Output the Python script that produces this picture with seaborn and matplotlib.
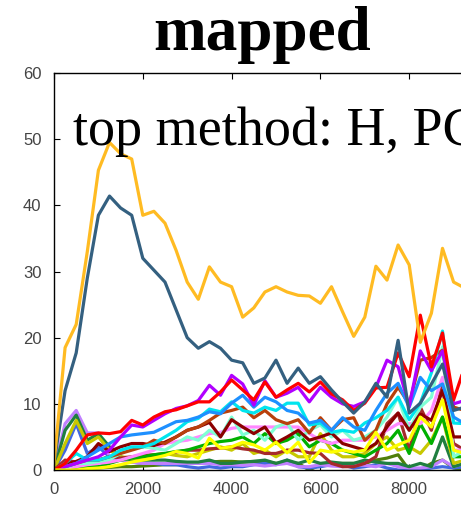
import numpy as np
import pandas as pd
from matplotlib import pyplot as plt
import seaborn as sns

sns.set_style('ticks')
plt.rcParams['font.family'] = ['Liberation Sans', 'DejaVu Sans']

steps = [0, 250, 500, 750, 1000, 1250, 1500, 1750, 2000, 2250, 2500, 2750,
         3000, 3250, 3500, 3750, 4000, 4250, 4500, 4750, 5000, 5250, 5500, 5750,
         6000, 6250, 6500, 6750, 7000, 7250, 7500, 7750, 8000, 8250, 8500, 8750,
         9000, 9250]

olivegreen = [0, 0, 0.1, 0.2, 0.3, 0.4, 0.5, 0.5, 0.6, 0.7, 0.8, 0.8, 1, 1, 1.2, 1.3, 1.3, 1.2, 1.3,
              1.3, 1, 1, 1, 0, 0.8, 1, 1, 1, 1, 1.5, 1.8, 2.3, 0, 0, 1, 1.5, 0.3, 0]
royalblue = [0, 3, 7, 2.5, 3.5, 2, 1.5, 1.2, 1, 1, 0.8, 0.8, 0.5, 0.3, 0.5, 0.3, 0.5, 0.5, 0.8,
             1, 0.8, 1.5, 0.5, 0.3, 0.5, 0.8, 0.8, 0.3, 0.5, 0.8, 0.3, 0, 0, 0, 0.3, 0.5, 0.3, 0.5]
lavender = [0, 7, 9, 5.6, 5.6, 2, 1.5, 1.2, 1, 1, 1, 1, 1, 1, 1, 0.8, 0.8, 0.7, 0.8, 0.6, 0.8,
            1, 0.5, 0.5, 0.8, 0.6, 0.5, 0.8, 0.7, 0.5, 1, 0.5, 0.3, 0.3, 0.5, 1.5, 0.5, 1]
seagreen = [0, 6, 8.3, 4.5, 5.5, 3.5, 2, 1.5, 1.5, 1.5, 1.5, 1.3, 1.2, 1.2, 1.5, 1, 1, 1.2, 1.3,
            1.5, 1, 1.5, 1, 1.5, 1, 1.2, 1, 1, 1.5, 1.2, 1, 1, 0.5, 1, 0.5, 5, 0.5, 1]
oliveyellow = [0, 4, 7.5, 4, 5, 3, 2, 1.8, 1.8, 2, 2.5, 2.2, 2, 2.5, 3, 3.5, 3, 4, 2.5, 3, 2,
               3, 2, 2, 5.5, 3, 2, 2, 2.5, 4, 5, 3, 3.5, 2.5, 4.5, 8, 1, 1.5]
brown = [0, 1.5, 1.2, 1.5, 1.5, 2, 1.8, 2, 2.2, 2.3, 2.5, 2.7, 3, 3, 3.2, 3.3, 3.5, 3.2, 3, 2.5,
         2.5, 3, 3, 2.6, 2.5, 1, 0.5, 0.5, 1, 2, 7, 8.6, 3, 9.5, 6, 13, 4, 3]
green = [0, 0.2, 0.3, 0.5, 0.5, 1, 1.5, 1.8, 2, 2.3, 2.5, 2.8, 3, 3.5, 4, 4.3, 4.5, 5, 4, 5.5,
         4, 4.5, 5.5, 3.5, 4.5, 4, 3, 2.5, 2, 3, 4, 6, 2.5, 7, 4, 8, 2, 2]
pink = [0, 0.3, 0.5, 0.8, 1, 1.2, 1.5, 2, 2.5, 3, 4, 4.3, 4.5, 5, 5.5, 5.7, 6.3, 6.5, 6.5, 6.5,
        6.5, 6.5, 6.5, 5.5, 4.5, 4, 4.5, 4.5, 4.5, 5, 6, 7, 7, 7, 9, 14, 3, 3]
aqua = [0, 0.3, 1, 1, 1.3, 1.6, 2.5, 3.3, 3.5, 3.3, 3, 4, 5, 4.5, 6, 5, 8, 5.3, 6, 4.5, 6.5,
        7.1, 4.5, 6, 6.8, 5, 6, 4.5, 5, 6, 8, 11, 6, 9.5, 11, 18.6, 2, 3]
darkred = [0, 0.8, 1.3, 2, 4, 2.8, 3.5, 4, 4, 3.7, 4.2, 5, 6, 6.5, 7.2, 5, 7.6, 6.5, 5.5, 6.5,
           4.1, 5, 6, 4.5, 5, 5.6, 4, 3.5, 3, 4, 6.5, 8.6, 6, 8.5, 7.5, 12, 5, 5]
sienna = [0, 0.5, 1, 1.5, 1.5, 2, 2.5, 3, 3.5, 4.5, 4, 5, 6, 6.5, 7.5, 8.6, 9, 9.5, 7.9, 9,
          7.6, 7, 7.6, 5.6, 7.9, 6, 7.6, 7.9, 4.5, 6, 10, 12.5, 10, 16.6, 17, 18.1, 9.5, 9]
cyan = [0, 1, 2.5, 1.5, 1.5, 2, 3, 3.5, 3.5, 4, 5, 6, 7.3, 7.8, 9.2, 8.8, 10.3, 9, 8.6, 9.5, 9,
        10.1, 10.1, 6.8, 7.1, 5.7, 6, 5.7, 7.1, 7.9, 9, 11, 7.6, 10.1, 14.7, 21, 7.1, 7]
blue = [0, 0.5, 1, 2, 3, 4, 5, 5.3, 5.5, 5.7, 6.5, 7.3, 7.5, 8, 8.8, 8.5, 10.1, 11.3, 9.5, 11,
        10.3, 9, 8.6, 7.1, 7.5, 6, 7.9, 6.5, 6, 9, 11.6, 13.1, 9.5, 14, 12, 13, 8, 7]
purple = [0, 0.5, 1, 1.5, 2, 3, 5, 6.8, 6.5, 7.5, 8.5, 9.3, 9.7, 10.5, 12.8, 11.3, 14.3, 13, 9.8,
          13.5, 11, 11.6, 12.5, 10.3, 12.5, 11, 10, 9.6, 10.3, 12.5, 16.6, 15.6, 9.6, 18, 15, 18, 10, 10.5]
red = [0, 1, 3, 5.3, 5.6, 5.5, 5.8, 7.5, 6.8, 8, 8.8, 9.1, 9.7, 10.3, 10.3, 11.8, 13.6, 12.1,
       10.6, 13.3, 11, 12.1, 13.1, 11.8, 13.3, 11.5, 10.6, 9, 10.1, 12.4, 12.5, 17.7, 14.1, 23.4,
       15.6, 20.7, 10.6, 15.6]
yellow = [0, 0, 0, 0.2, 0.3, 0.5, 0.8, 1.2, 1.5, 1.8, 2.2, 2.8, 2.5, 1.8, 4.8, 3.3, 3.5, 4.2,
          3.8, 3, 4.2, 2.6, 4.2, 1.1, 3, 2.7, 3, 2.7, 3, 5.7, 3, 3.8, 4.5, 8, 6.5, 10.6, 3, 2.5]
darkblue = [1, 12, 17.7, 29, 38.5, 41.4, 39.6, 38.5, 32, 30.2, 28.4, 24.2, 20, 18.4, 19.4, 18.4,
            16.6, 16.2, 13.1, 13.9, 16.6, 13.1, 15.4, 13.1, 14.1, 12.1, 10.3, 8.6, 10.3, 13.1, 11,
            19.6, 8.6, 10.1, 13, 16, 9, 9.5]
orange = [1, 18.5, 22, 33, 45.3, 49.5, 47.8, 47, 38.5, 39.1, 37.3, 33.2, 28.4, 25.8, 30.7, 28.4,
          27.7, 23.1, 24.5, 26.9, 27.7, 26.9, 26.4, 26.3, 25.2, 27.7, 23.9, 20.2, 23.1, 30.8, 28.7,
          34, 31, 19.3, 23.7, 33.5, 28.4, 27.5]

series = {
    'olivegreen': (olivegreen, '#4f7f0a'),
    'royalblue': (royalblue, '#4169e1'),
    'lavender': (lavender, '#c080ff'),
    'seagreen': (seagreen, '#1f7f40'),
    'oliveyellow': (oliveyellow, '#c8c800'),
    'brown': (brown, '#a52a2a'),
    'green': (green, '#00b000'),
    'pink': (pink, '#ff88ff'),
    'aqua': (aqua, '#7fffd4'),
    'darkred': (darkred, '#8b0000'),
    'sienna': (sienna, '#b8400b'),
    'cyan': (cyan, '#00e5ee'),
    'blue': (blue, '#1e90ff'),
    'purple': (purple, '#b000ff'),
    'red': (red, '#ff0000'),
    'yellow': (yellow, '#ffff00'),
    'darkblue': (darkblue, '#346080'),
    'orange': (orange, '#ffbb22'),
}

df = pd.concat([pd.DataFrame({'x': steps, 'y': vals, 'series': name})
                for name, (vals, _) in series.items()], ignore_index=True)
palette = {name: col for name, (_, col) in series.items()}

fig = plt.figure(figsize=(4.61, 5.11), dpi=100)
ax = fig.add_axes([54 / 461, 1 - 470 / 511, 444 / 461, 397 / 511])
sns.lineplot(data=df, x='x', y='y', hue='series', hue_order=list(series.keys()),
             palette=palette, estimator=None, legend=False, lw=2.3, ax=ax)

ax.set_xlim(0, 10000)
ax.set_ylim(0, 60)
ax.set_xticks([0, 2000, 4000, 6000, 8000])
ax.set_yticks([0, 10, 20, 30, 40, 50, 60])
ax.set_xlabel('')
ax.set_ylabel('')
ax.tick_params(direction='in', length=4, width=0.8, colors='black', labelcolor='#444444',
               labelsize=12, pad=9, top=True, right=True)
for s in ax.spines.values():
    s.set_linewidth(1.0)
    s.set_color('black')

ax.text(428, 49.1, 'top method: H, PC', family=['Liberation Serif', 'DejaVu Serif'],
        fontsize=39, va='baseline', ha='left', color='black', clip_on=True)
fig.text(262 / 461, 1 - 50 / 511, 'mapped', family=['Liberation Serif', 'DejaVu Serif'],
         fontsize=45.5, fontweight='bold', ha='center', va='baseline', color='black')

plt.savefig('out.png', dpi=100)
